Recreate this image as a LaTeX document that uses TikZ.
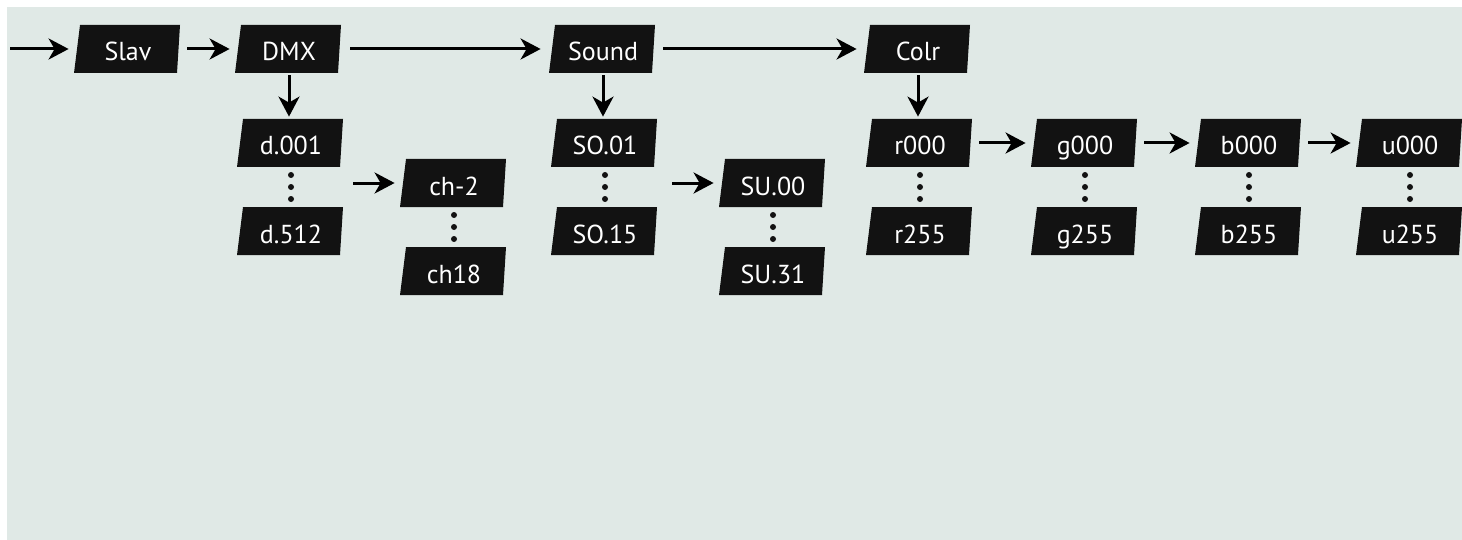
\documentclass[tikz,border=0pt]{standalone}
\usepackage{fontspec}
\setmainfont{PT Sans}
\usetikzlibrary{arrows.meta,calc}
\definecolor{panel}{HTML}{E0E9E6}
\definecolor{boxc}{HTML}{121212}
\tikzset{
  cell/.style={inner sep=0pt, minimum width=52pt, minimum height=24pt, text=white,
    font=\fontsize{13}{15}\selectfont, text height=12pt, text depth=0pt},
  arr/.style={line width=1.5pt, -{Stealth[length=10pt,width=10.5pt,inset=3pt]},
    shorten >=3.5pt, shorten <=3.5pt},
  down/.style={shorten >=1pt, shorten <=1pt}
}

\begin{document}
\begin{tikzpicture}[x=0.5pt,y=-0.5pt]
        \useasboundingbox (0,0) rectangle (1462,540);
        \fill[panel] (7,7) rectangle (1462,540);
        \foreach \n/\x/\y/\t in {slav/128/49/Slav, dmx/289/49/DMX, sound/603/49/Sound, colr/918/49/Colr,
            d001/291/143/d.001, d512/291/231/d.512, ch2/454/183/ch-2, ch18/454/271/ch18,
            so01/605/143/SO.01, so15/605/231/SO.15, su00/773/183/SU.00, su31/773/271/SU.31,
            r000/920/143/r000, r255/920/231/r255, g000/1085/143/g000, g255/1085/231/g255,
            b000/1249/143/b000, b255/1249/231/b255, u000/1410/143/u000, u255/1410/231/u255}
        {
            \fill[boxc, shift={(\x,\y)}] (-54,24) -- (-48,-24) -- (52,-24) -- (49,24) -- cycle;
            \node[cell] (\n) at (\x,\y) {\t};
        }
        \foreach \a/\b in {d001/d512, ch2/ch18, so01/so15, su00/su31, r000/r255, g000/g255, b000/b255, u000/u255}
            \foreach \k in {-12,0,12}
                \fill[boxc] ($(\a)!0.5!(\b)+(0,\k)$) circle (1.5pt);
        \coordinate (start) at (10,49);
        \draw[arr, shorten <=0pt] (start) -- (slav);
        \draw[arr] (slav) -- (dmx);
        \draw[arr, shorten <=4.5pt, shorten >=5pt] (dmx) -- (sound);
        \draw[arr, shorten <=4pt, shorten >=4.5pt] (sound) -- (colr);
        \foreach \a/\b in {dmx/d001, sound/so01, colr/r000}
            \draw[arr, down] (\a.south) -- (\a.south |- \b.north);
        \foreach \a/\b in {r000/g000, g000/b000, b000/u000}
            \draw[arr] (\a) -- (\b);
        \draw[arr, shorten <=5pt] (d001.east |- ch2) -- (ch2);
        \draw[arr, shorten <=7.5pt] (so01.east |- su00) -- (su00);
\end{tikzpicture}
\end{document}
